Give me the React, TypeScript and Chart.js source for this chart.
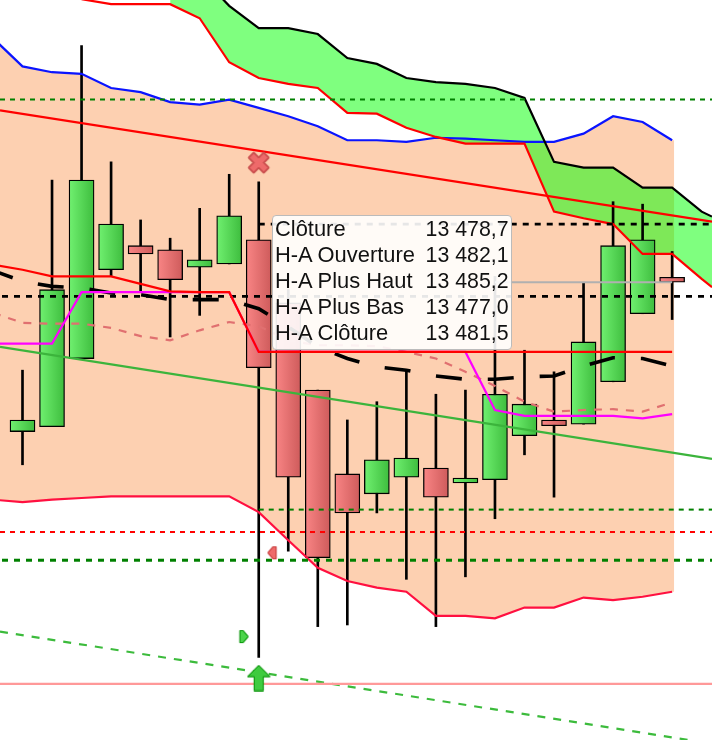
import React, { useEffect, useRef } from "react";
import { Chart, registerables } from "chart.js";

Chart.register(...registerables);

const candleIndex = [0, 1, 2, 3, 4, 5, 6, 7, 8, 9, 10, 11, 12, 13, 14, 15, 16, 17, 18, 19, 20, 21, 22];
const candleOpen = [13463.5, 13464.1, 13472.3, 13483.0, 13485.9, 13485.4, 13483.3, 13483.7, 13486.6, 13479.0, 13468.5, 13458.4, 13456.0, 13458.0, 13459.1, 13457.3, 13457.7, 13463.0, 13464.9, 13464.4, 13469.5, 13477.7, 13482.1];
const candleClose = [13464.9, 13480.6, 13493.8, 13488.5, 13484.9, 13481.8, 13484.2, 13489.5, 13471.2, 13458.0, 13448.3, 13453.7, 13460.1, 13460.3, 13455.6, 13457.9, 13468.0, 13466.8, 13464.2, 13474.3, 13485.9, 13486.6, 13481.5];
const candleHigh = [13470.9, 13493.8, 13510.0, 13496.0, 13489.0, 13486.8, 13490.4, 13494.5, 13493.6, 13480.6, 13468.5, 13464.9, 13467.1, 13471.0, 13468.0, 13468.5, 13482.2, 13473.3, 13470.7, 13481.4, 13491.2, 13490.9, 13485.2];
const candleLow = [13459.5, 13464.1, 13472.3, 13482.2, 13480.3, 13474.9, 13477.5, 13483.7, 13436.3, 13449.1, 13440.0, 13440.2, 13453.7, 13445.7, 13440.0, 13446.0, 13453.0, 13460.7, 13455.6, 13464.4, 13469.5, 13477.7, 13477.0];

const lineIndex = [-1, 0, 1, 2, 3, 4, 5, 6, 7, 8, 9, 10, 11, 12, 13, 14, 15, 16, 17, 18, 19, 20, 21, 22];
const bandUpper = [13510.9, 13507.5, 13506.8, 13506.6, 13504.9, 13504.4, 13503.2, 13502.9, 13503.5, 13502.5, 13501.5, 13500.3, 13498.6, 13498.6, 13498.4, 13498.9, 13498.8, 13498.6, 13498.4, 13498.4, 13499.4, 13501.5, 13500.8, 13498.6];
const bandLower = [13455.3, 13455.0, 13455.3, 13455.5, 13455.7, 13455.7, 13455.7, 13455.7, 13455.7, 13453.8, 13450.4, 13447.1, 13445.5, 13444.7, 13444.2, 13441.3, 13441.3, 13441.0, 13442.3, 13442.3, 13443.5, 13443.2, 13443.6, 13444.2];
const baseRed = [13483.6, 13483.0, 13482.2, 13482.2, 13482.2, 13481.3, 13480.4, 13480.3, 13480.3, 13473.1, 13473.1, 13473.1, 13473.1, 13473.1, 13473.1, 13473.1, 13473.1, 13473.1, 13473.1, 13473.1, 13473.1, 13473.1, 13473.1, 13473.1];
const magenta = [13474.1, 13474.1, 13474.1, 13480.3, 13480.3, 13480.3, 13480.3, 13480.3, 13480.3, 13473.1, 13473.1, 13473.1, 13473.1, 13473.1, 13473.1, 13473.1, 13473.1, 13466.1, 13465.4, 13465.4, 13465.4, 13465.4, 13465.1, 13465.6];
const paleDashed = [13477.8, 13476.6, 13476.5, 13476.5, 13476.0, 13475.0, 13474.5, 13475.7, 13476.7, 13476.2, 13474.5, 13473.9, 13473.9, 13473.8, 13473.1, 13472.3, 13470.7, 13469.0, 13467.1, 13465.9, 13466.1, 13466.2, 13465.9, 13467.0];
const blackDashed = [13482.9, 13481.6, 13481.0, 13480.8, 13480.2, 13480.0, 13479.4, 13479.4, 13479.4, 13478.3, 13476.1, 13473.7, 13472.3, 13471.3, 13470.9, 13470.2, 13469.8, 13469.8, 13470.1, 13470.2, 13471.4, 13472.4, 13472.3, 13471.4];

const cloudIndex = [5, 6, 7, 8, 9, 10, 11, 12, 13, 14, 15, 16, 17, 18, 19, 20, 21, 22, 23, 23.35];
const cloudTop = [13516.5, 13518.5, 13514.8, 13512.1, 13512.1, 13511.4, 13508.5, 13507.8, 13506.1, 13505.6, 13505.4, 13504.9, 13503.7, 13496.0, 13495.3, 13495.3, 13492.9, 13492.9, 13490.0, 13489.4];
const cloudBottom = [13515.0, 13513.3, 13508.0, 13506.1, 13505.4, 13504.9, 13501.9, 13501.8, 13500.1, 13499.0, 13498.2, 13498.2, 13498.2, 13490.0, 13489.2, 13488.5, 13484.9, 13484.9, 13481.9, 13480.9];
const cloudLeadIndex = [2, 3, 4];
const cloudLead = [13515.6, 13515.0, 13515.0];

const viewStart = -0.762;
const viewEnd = 23.35;
const priceTop = 13515.5;
const priceBottom = 13426.34;

const trendRed = [13502.2, 13488.8];
const trendGreen = [13473.7, 13460.2];
const trendGreenDashed = [13439.4, 13425.9];

const levelTopGreen = 13503.5;
const levelBlackUpper = 13488.5;
const levelBlackLower = 13479.8;
const levelCursor = 13481.5;
const levelGreenLower = 13454.1;
const levelRed = 13451.4;
const levelDarkGreen = 13448.0;
const levelPink = 13433.1;

const tooltipLabels = ["Clôture", "H-A Ouverture", "H-A Plus Haut", "H-A Plus Bas", "H-A Clôture"];
const tooltipValues = ["13 478,7", "13 482,1", "13 485,2", "13 477,0", "13 481,5"];

function icon(w: number, h: number, pts: number[][], fill: string, stroke: string, lw = 1.2) {
  const c = document.createElement("canvas");
  c.width = w;
  c.height = h;
  const g = c.getContext("2d")!;
  g.beginPath();
  pts.forEach((p, i) => (i ? g.lineTo(p[0], p[1]) : g.moveTo(p[0], p[1])));
  g.closePath();
  g.fillStyle = fill;
  g.lineWidth = lw;
  g.lineJoin = "round";
  g.strokeStyle = stroke;
  g.stroke();
  g.fill();
  g.lineWidth = 1;
  g.stroke();
  return c;
}

function line(label: string, xs: number[], ys: number[], color: string, width: number, dash: number[] = [], extra: any = {}) {
  return {
    type: "line",
    label,
    data: xs.map((x, i) => ({ x, y: ys[i] })),
    borderColor: color,
    borderWidth: width,
    borderDash: dash,
    pointRadius: 0,
    tension: 0,
    fill: false,
    ...extra,
  };
}

function level(label: string, value: number, from: number, to: number, color: string, width: number, dash: number[] = [], extra: any = {}) {
  return line(label, [from, to], [value, value], color, width, dash, extra);
}

function marker(label: string, x: number, y: number, image: HTMLCanvasElement) {
  return {
    type: "scatter",
    label,
    data: [{ x, y }],
    pointStyle: image,
    pointRadius: 10,
    showLine: false,
  };
}

function bodyFill(c: any) {
  const i = c.dataIndex;
  if (i === undefined) return "#6FEF6F";
  const rising = candleClose[i] >= candleOpen[i];
  const x = c.chart.scales.x?.getPixelForValue(candleIndex[i]);
  if (!Number.isFinite(x)) return rising ? "#57D757" : "#E37070";
  const g = c.chart.ctx.createLinearGradient(x - 12, 0, x + 12, 0);
  g.addColorStop(0, rising ? "#6FEF6F" : "#F88484");
  g.addColorStop(1, rising ? "#3FBE3F" : "#CF5C5C");
  return g;
}

export default function App() {
  const ref = useRef<HTMLCanvasElement>(null);

  useEffect(() => {
    const crossIcon = icon(25, 25, [[7.5, 3], [12.5, 8], [17.5, 3], [22, 7.5], [17, 12.5], [22, 17.5], [17.5, 22], [12.5, 17], [7.5, 22], [3, 17.5], [8, 12.5], [3, 7.5]], "#EE6A6A", "#C84C4C", 2.6);
    const arrowIcon = icon(24, 27, [[12, 1], [23, 12], [16.5, 12], [16.5, 26], [7.5, 26], [7.5, 12], [1, 12]], "#3FCB3F", "#0A960A");
    const rightIcon = icon(11, 15, [[1.5, 1.5], [4.5, 1.5], [9.5, 7.5], [4.5, 13.5], [1.5, 13.5]], "#4CD44C", "#0A960A");
    const leftIcon = icon(11, 15, [[9.5, 1.5], [6.5, 1.5], [1.5, 7.5], [6.5, 13.5], [9.5, 13.5]], "#EE6A6A", "#C83C3C");

    const peachX = [...lineIndex, 22.07];
    const layers: any[] = [
      line("band top", peachX, [...bandUpper, bandUpper[bandUpper.length - 1]], "transparent", 0, [], { fill: "+1", backgroundColor: "#FDD0B1" }),
      line("band bottom", peachX, [...bandLower, bandLower[bandLower.length - 1]], "transparent", 0),
      line("cloud top fill", cloudIndex, cloudTop, "transparent", 0, [], { fill: "+1", backgroundColor: "rgba(0,255,0,0.5)" }),
      line("cloud bottom fill", cloudIndex, cloudBottom, "transparent", 0),
      {
        type: "bar",
        label: "wick",
        grouped: false,
        barThickness: 2,
        backgroundColor: "#000",
        borderWidth: 0,
        data: candleIndex.map((x, i) => ({ x, y: [candleLow[i], candleHigh[i]] })),
      },
      {
        type: "bar",
        label: "body",
        grouped: false,
        barThickness: 25,
        backgroundColor: bodyFill,
        borderColor: "#000",
        borderWidth: 1.3,
        borderSkipped: false,
        data: candleIndex.map((x, i) => ({ x, y: [candleOpen[i], candleClose[i]] })),
      },
      line("upper band", lineIndex, bandUpper, "#0A14FF", 2.2),
      line("lower band", lineIndex, bandLower, "#FF1040", 2.2),
      line("cloud top", cloudIndex, cloudTop, "#000", 2.2),
      line("cloud bottom", [...cloudLeadIndex, ...cloudIndex], [...cloudLead, ...cloudBottom], "#FF0000", 2.2),
      line("trend red", [viewStart, viewEnd], trendRed, "#FF0000", 2.2),
      line("trend green", [viewStart, viewEnd], trendGreen, "#3CB43C", 2.2),
      line("trend green dashed", [viewStart, viewEnd], trendGreenDashed, "#3CBB3C", 2.2, [8, 8]),
      level("level green top", levelTopGreen, viewStart, viewEnd, "#008000", 2, [5, 5]),
      level("level black upper", levelBlackUpper, 8, viewEnd, "#000", 2.8, [6, 6]),
      level("level black lower", levelBlackLower, viewStart, viewEnd, "#000", 2.8, [6, 6], { borderDashOffset: 10 }),
      level("level green lower", levelGreenLower, 8, viewEnd, "#008000", 2, [5, 5]),
      level("level red", levelRed, viewStart, viewEnd, "#FF0000", 2, [5, 5]),
      level("level dark green", levelDarkGreen, viewStart, viewEnd, "#008000", 3, [6, 6], { borderDashOffset: 10 }),
      level("level pink", levelPink, viewStart, viewEnd, "#FF9999", 2.2),
      line("pale dashed", lineIndex, paleDashed, "#E07070", 2.2, [8, 8]),
      line("black dashed", lineIndex, blackDashed, "#000", 3.6, [26, 26], { borderDashOffset: 5 }),
      line("magenta", lineIndex, magenta, "#FF00FF", 2.2),
      line("base red", lineIndex, baseRed, "#FF0000", 2.2),
      level("cursor", levelCursor, 16, 22, "#B0B0B0", 2),
      marker("cross", 8, 13495.9, crossIcon),
      marker("arrow", 8, 13433.8, arrowIcon),
      marker("right", 7.5, 13438.8, rightIcon),
      marker("left", 8.45, 13448.9, leftIcon),
    ];
    layers.forEach((d, i) => (d.order = layers.length - i));

    const chart = new Chart(ref.current!, {
      type: "bar",
      data: { datasets: layers },
      options: {
        animation: false,
        responsive: false,
        events: [],
        layout: { padding: 0, autoPadding: false },
        scales: {
          x: { type: "linear", min: viewStart, max: viewEnd, offset: false, display: false },
          y: { type: "linear", min: priceBottom, max: priceTop, display: false },
        },
        plugins: { legend: { display: false }, tooltip: { enabled: false } },
      },
    } as any);
    return () => chart.destroy();
  }, []);

  return (
    <div style={{ position: "fixed", left: 0, top: 0, width: 712, height: 740, overflow: "hidden", background: "#fff" }}>
      <canvas ref={ref} width={712} height={740} style={{ display: "block" }} />
      <div
        style={{
          position: "absolute",
          left: 272,
          top: 215,
          width: 239.5,
          height: 134.5,
          boxSizing: "border-box",
          background: "rgba(255,255,255,0.9)",
          border: "1px solid #BBBBBB",
          borderRadius: 4,
          fontFamily: "'Liberation Sans', Arial, sans-serif",
          fontSize: 21.9,
          lineHeight: "26px",
          color: "#111",
          padding: "0 2px",
        }}
      >
        {tooltipLabels.map((label, i) => (
          <div key={label} style={{ display: "flex", justifyContent: "space-between", height: 26, whiteSpace: "nowrap" }}>
            <span>{label}</span>
            <span style={{ fontSize: 21.3 }}>{tooltipValues[i]}</span>
          </div>
        ))}
      </div>
    </div>
  );
}
